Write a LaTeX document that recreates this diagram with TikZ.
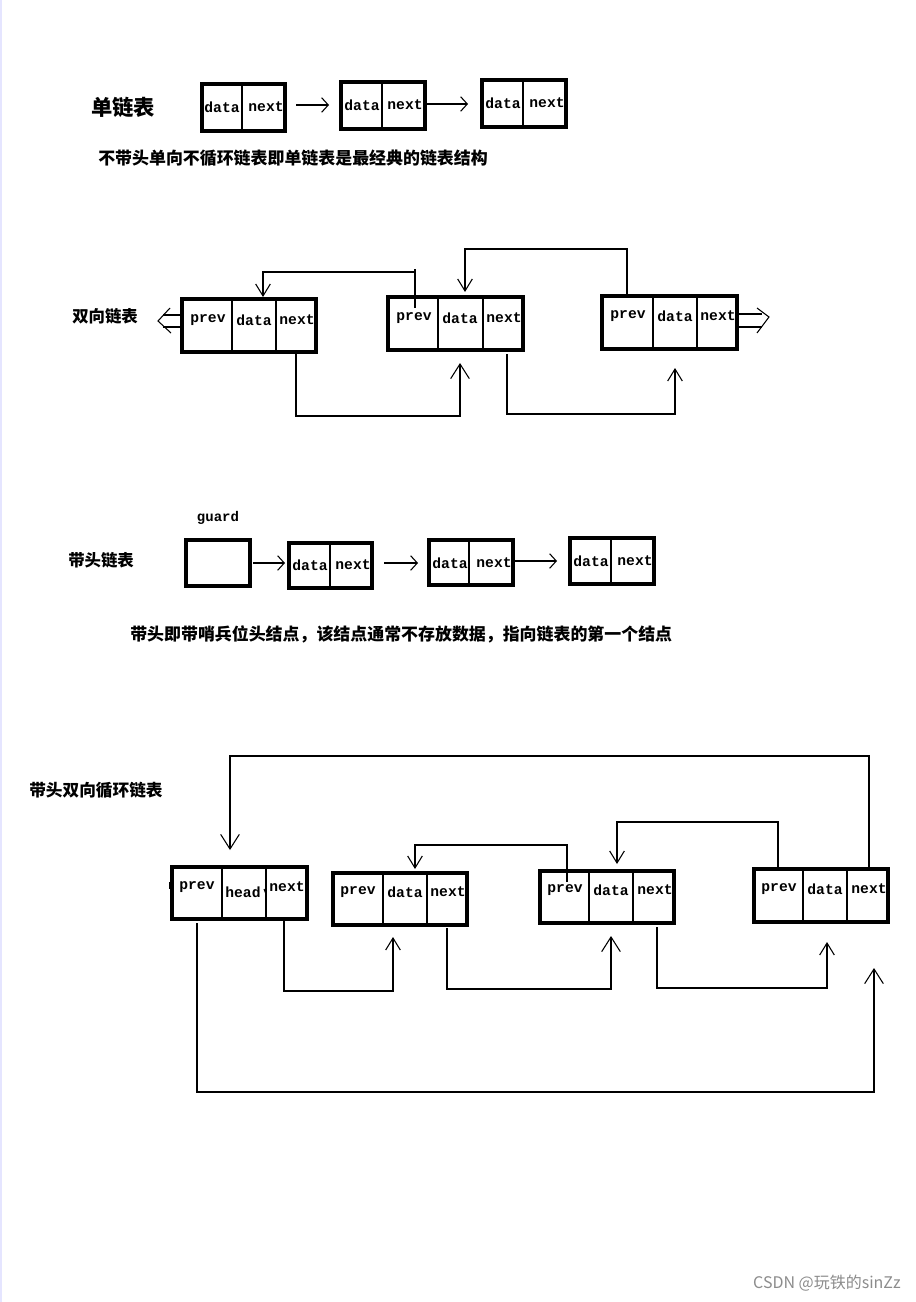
\documentclass[tikz,border=0pt]{standalone}
\usepackage{fontspec}
\newfontfamily\cjk{Noto Sans CJK SC}
\newfontfamily\monof{Liberation Mono}
\usetikzlibrary{arrows.meta,fit}
\tikzset{
  cellbox/.style={draw,line width=2.3pt,inner sep=0pt},
  divline/.style={line width=0.8pt},
  lbl/.style={font=\monof\bfseries\fontsize{11pt}{12pt}\selectfont,inner sep=0pt},
  title/.style={font=\cjk\bfseries\fontsize{12.3pt}{14pt}\selectfont,inner sep=0pt,anchor=west},
  conn/.style={line width=0.8pt},
  hd/.style={-{Straight Barb[length=9pt,width=11pt,line width=0.8pt]}},
  bighd/.style={-{Straight Barb[length=11pt,width=14pt,line width=0.8pt]}},
  sh/.style={-{Straight Barb[length=5pt,width=11pt,line width=0.8pt]}},
}
\begin{document}
\begin{tikzpicture}[x=0.75pt,y=-0.75pt]
\useasboundingbox (0,0) rectangle (915,1302);
\fill[white] (0,0) rectangle (915,1302);
\fill[blue!10] (0,0) rectangle (2,1302);

% ---------- section 1 ----------
\node[font=\cjk\bfseries\fontsize{16pt}{18pt}\selectfont,inner sep=0pt,anchor=west] (t1) at (91,107) {单链表};
\node[cellbox,fit={(202,84)(285,131)}] (s1a) {};
\node[cellbox,fit={(341,82)(425,129)}] (s1b) {};
\node[cellbox,fit={(482,80)(566,127)}] (s1c) {};
\draw[divline] (242,84) -- (242,131);
\draw[divline] (382,82) -- (382,129);
\draw[divline] (523,80) -- (523,127);
\node[lbl] (s1ad) at (222,107) {data};
\node[lbl] (s1an) at (266,107) {next};
\node[lbl] (s1bd) at (362,105) {data};
\node[lbl] (s1bn) at (405,105) {next};
\node[lbl] (s1cd) at (503,103) {data};
\node[lbl] (s1cn) at (547,103) {next};
\coordinate (a1s) at (296,105); \coordinate (a1e) at (329,105);
\coordinate (a2e) at (468,104);
\draw[conn,sh] (a1s) -- (a1e);
\draw[conn,sh] (s1b.east |- a2e) -- (a2e);
\node[title,font=\cjk\bfseries\fontsize{12.7pt}{14pt}\selectfont] (c1) at (98,158) {不带头单向不循环链表即单链表是最经典的链表结构};

% ---------- section 2 ----------
\node[title] (t2) at (72,316) {双向链表};
\node[cellbox,fit={(182,299)(316,352)}] (dA) {};
\node[cellbox,fit={(388,297)(523,350)}] (dB) {};
\node[cellbox,fit={(602,296)(737,349)}] (dC) {};
\draw[divline] (232,299) -- (232,352); \draw[divline] (276,299) -- (276,352);
\draw[divline] (438,297) -- (438,350); \draw[divline] (483,297) -- (483,350);
\draw[divline] (653,296) -- (653,349); \draw[divline] (697,296) -- (697,349);
\node[lbl] (dAp) at (208,320) {prev};
\node[lbl] (dAd) at (254,320) {data};
\node[lbl] (dAn) at (297,320) {next};
\node[lbl] (dBp) at (414,318) {prev};
\node[lbl] (dBd) at (460,318) {data};
\node[lbl] (dBn) at (504,318) {next};
\node[lbl] (dCp) at (628,316) {prev};
\node[lbl] (dCd) at (675,316) {data};
\node[lbl] (dCn) at (718,316) {next};
% left double arrow
\coordinate (l1) at (163,315); \coordinate (l2) at (163,327);
\draw[conn] (dA.west |- l1) -- (l1);
\draw[conn] (dA.west |- l2) -- (l2);
\draw[conn] (170,308) -- (158,321) -- (171,333);
% right double arrow
\coordinate (r1) at (762,314); \coordinate (r2) at (762,327);
\draw[conn] (dC.east |- r1) -- (r1);
\draw[conn] (dC.east |- r2) -- (r2);
\draw[conn] (757,308) -- (769,317) -- (757,333);
% connectors
\coordinate (p1s) at (415,308); \coordinate (p1c) at (263,272); \coordinate (p1t) at (263,297);
\draw[conn] (415,269) -- (p1s);
\draw[conn,hd] (p1s |- p1c) -- (p1c) -- (p1t);
\coordinate (p2s) at (627,296); \coordinate (p2c) at (465,249); \coordinate (p2t) at (465,292);
\draw[conn,hd] (p2s) |- (p2c) -- (p2t);
\coordinate (n1s) at (296,354); \coordinate (n1c) at (460,416); \coordinate (n1t) at (460,363);
\draw[conn,bighd] (n1s) |- (n1c) -- (n1t);
\coordinate (n2s) at (507,354); \coordinate (n2c) at (675,414); \coordinate (n2t) at (675,368);
\draw[conn,hd] (n2s) |- (n2c) -- (n2t);

% ---------- section 3 ----------
\node[lbl,font=\monof\bfseries\fontsize{10.5pt}{12pt}\selectfont] (gl) at (218,518) {guard};
\node[title] (t3) at (68,560) {带头链表};
\node[cellbox,fit={(186,540)(250,586)}] (g) {};
\node[cellbox,fit={(289,543)(372,588)}] (hA) {};
\node[cellbox,fit={(429,540)(513,585)}] (hB) {};
\node[cellbox,fit={(570,538)(654,584)}] (hC) {};
\draw[divline] (330,543) -- (330,588);
\draw[divline] (469,540) -- (469,585);
\draw[divline] (611,538) -- (611,584);
\node[lbl] (hAd) at (310,565) {data};
\node[lbl] (hAn) at (353,565) {next};
\node[lbl] (hBd) at (450,563) {data};
\node[lbl] (hBn) at (494,563) {next};
\node[lbl] (hCd) at (591,561) {data};
\node[lbl] (hCn) at (635,561) {next};
\coordinate (b1s) at (253,563); \coordinate (b1e) at (285,563);
\coordinate (b2s) at (384,563); \coordinate (b2e) at (418,563);
\coordinate (b3e) at (557,561);
\draw[conn,sh] (b1s) -- (b1e);
\draw[conn,sh] (b2s) -- (b2e);
\draw[conn,sh] (hB.east |- b3e) -- (b3e);
\node[title,font=\cjk\bfseries\fontsize{12.7pt}{14pt}\selectfont] (c3) at (130,634) {带头即带哨兵位头结点，该结点通常不存放数据，指向链表的第一个结点};

% ---------- section 4 ----------
\node[title,font=\cjk\bfseries\fontsize{12.5pt}{14pt}\selectfont] (t4) at (29,790) {带头双向循环链表};
\node[cellbox,fit={(172,867)(307,919)}] (H) {};
\node[cellbox,fit={(333,873)(467,925)}] (B) {};
\node[cellbox,fit={(540,871)(674,923)}] (C) {};
\node[cellbox,fit={(754,869)(888,922)}] (D) {};
\draw[divline] (222,867) -- (222,919); \draw[divline] (266,867) -- (266,919);
\draw[divline] (383,873) -- (383,925); \draw[divline] (427,873) -- (427,925);
\draw[divline] (589,871) -- (589,923); \draw[divline] (633,871) -- (633,923);
\draw[divline] (803,869) -- (803,922); \draw[divline] (847,869) -- (847,922);
\node[lbl] (Hp) at (197,887) {prev};
\node[lbl] (Hh) at (243,892) {head};
\node[lbl] (Hn) at (287,887) {next};
\draw[divline] (264,889) -- (266,894);
\draw[divline] (170,882) -- (170,889);
\node[lbl] (Bp) at (358,892) {prev};
\node[lbl] (Bd) at (405,892) {data};
\node[lbl] (Bn) at (448,892) {next};
\node[lbl] (Cp) at (565,890) {prev};
\node[lbl] (Cd) at (611,890) {data};
\node[lbl] (Cn) at (655,890) {next};
\node[lbl] (Dp) at (779,889) {prev};
\node[lbl] (Dd) at (825,889) {data};
\node[lbl] (Dn) at (869,889) {next};
% top loop
\coordinate (q0s) at (869,868); \coordinate (q0c) at (230,756); \coordinate (q0t) at (230,850);
\draw[conn,bighd] (q0s) |- (q0c) -- (q0t);
\coordinate (q1s) at (778,869); \coordinate (q1c) at (617,822); \coordinate (q1t) at (617,864);
\draw[conn,hd] (q1s) |- (q1c) -- (q1t);
\coordinate (q2s) at (567,882); \coordinate (q2c) at (415,845); \coordinate (q2t) at (415,869);
\draw[conn,hd] (q2s) |- (q2c) -- (q2t);
% bottom
\coordinate (m1s) at (284,920); \coordinate (m1c) at (393,991); \coordinate (m1t) at (393,937);
\draw[conn,hd] (m1s) |- (m1c) -- (m1t);
\coordinate (m2s) at (447,928); \coordinate (m2c) at (611,989); \coordinate (m2t) at (611,936);
\draw[conn,bighd] (m2s) |- (m2c) -- (m2t);
\coordinate (m3s) at (657,927); \coordinate (m3c) at (827,988); \coordinate (m3t) at (827,942);
\draw[conn,hd] (m3s) |- (m3c) -- (m3t);
\coordinate (m4s) at (197,923); \coordinate (m4c) at (874,1092); \coordinate (m4t) at (874,968);
\draw[conn,bighd] (m4s) |- (m4c) -- (m4t);

% watermark
\node[font=\cjk\fontsize{12pt}{14pt}\selectfont,text=black!45,inner sep=0pt,anchor=east] (wm) at (901,1283) {CSDN @玩铁的sinZz};
\end{tikzpicture}
\end{document}
